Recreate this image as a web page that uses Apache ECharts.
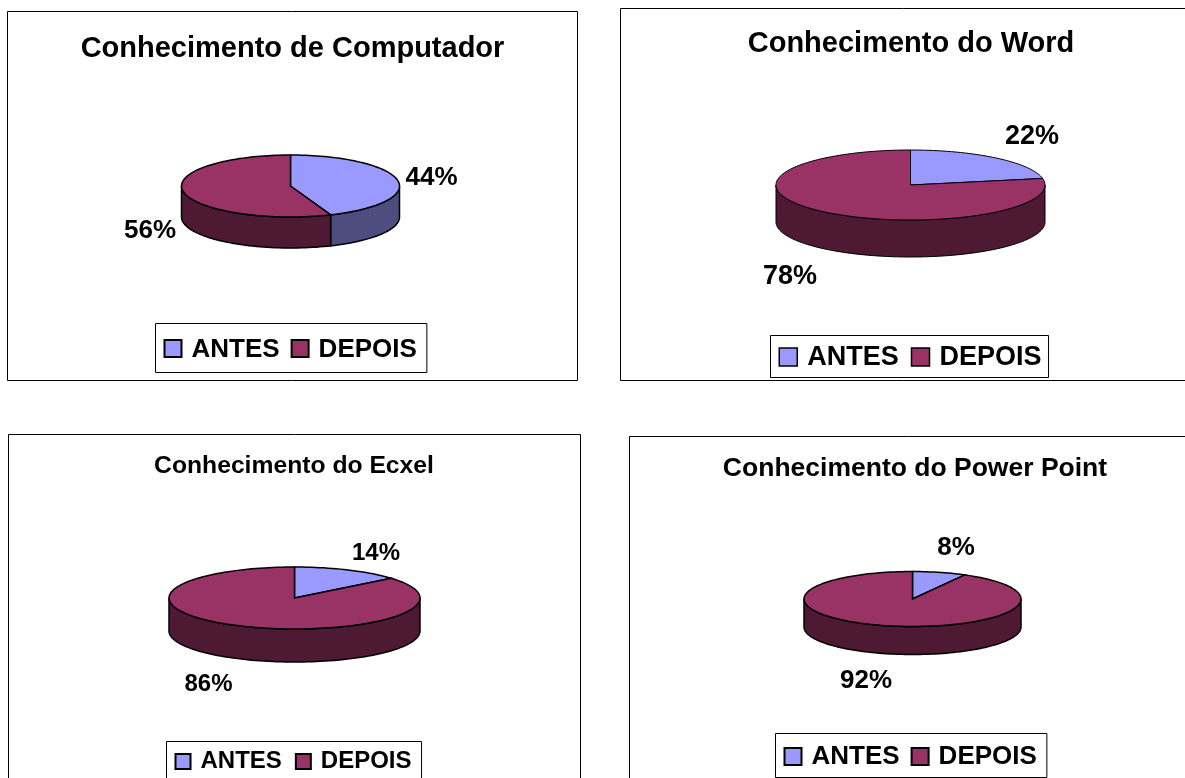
<!DOCTYPE html>
<html>
<head>
<meta charset="utf-8">
<style>html,body{margin:0;padding:0;background:#fff;overflow:hidden}#c{width:1185px;height:778px}</style>
<script src="https://cdn.jsdelivr.net/npm/echarts@6/dist/echarts.min.js"></script>
</head>
<body>
<div id="c"></div>
<script>
// Data
var chartTitles = ['Conhecimento de Computador', 'Conhecimento do Word', 'Conhecimento do Ecxel', 'Conhecimento do Power Point'];
var seriesNames = ['ANTES', 'DEPOIS'];
var antesValues = [44, 22, 14, 8];
var depoisValues = [56, 78, 86, 92];

// Layout (positions and sizes only)
var layout = [
  {frame:[7.5,11.5,570,369], cx:290.5,cy:186,rx:109,ry:31,depth:31, titleX:292.5,titleY:49,titleSize:29,
   labelSize:26, labels:[[431.5,178],[150,231]], legend:[155.5,323.5], legendSize:26, lw:1.5, icon:17, gap:11, pad:[13,10,10,8], textTop:2},
  {frame:[620.5,8.5,600,372], cx:910.5,cy:185,rx:134.5,ry:35,depth:37, titleX:911,titleY:44,titleSize:29,
   labelSize:27, labels:[[1032,137],[790,277]], legend:[770.5,335.5], legendSize:27, lw:1, icon:18, gap:12, pad:[9,7,6,8], textTop:2},
  {frame:[8.5,434.5,572,400], cx:294.5,cy:598,rx:125.5,ry:31,depth:33, titleX:294,titleY:466,titleSize:24.7,
   labelSize:24, labels:[[376,553],[208.5,684]], legend:[166.5,741.5], legendSize:24, lw:1.5, icon:15, gap:13, pad:[8,10,8,8], textTop:0},
  {frame:[629.5,436.5,600,400], cx:912.5,cy:599,rx:108.5,ry:27.5,depth:28, titleX:915,titleY:469,titleSize:26.5,
   labelSize:26, labels:[[956,548],[866,681]], legend:[775.5,733.5], legendSize:26, lw:1.5, icon:17, gap:11, pad:[10,10,8,8], textTop:0}
];
var FONT = '"Liberation Sans", Arial, sans-serif';
var topColors = ['#9999ff', '#993366'];
var sideColors = ['#4d4d80', '#4d1933'];

function rim(p, a, b, dy) {
  var pts = [], n = Math.max(2, Math.ceil(Math.abs(b - a) / 2));
  for (var i = 0; i <= n; i++) {
    var t = (a + (b - a) * i / n) * Math.PI / 180;
    pts.push([p.cx + p.rx * Math.sin(t), p.cy - p.ry * Math.cos(t) + dy]);
  }
  return pts;
}

function makeRender(sIdx) {
  return function (params, api) {
    var i = params.dataIndex, p = layout[i];
    var value = api.value(0), offset = api.value(1), total = api.value(2);
    var a = offset / total * 360, b = (offset + value) / total * 360;
    var children = [];
    var sa = Math.max(a, 90), sb = Math.min(b, 270);
    if (sb > sa) {
      var side = rim(p, sa, sb, 0).concat(rim(p, sa, sb, p.depth).reverse());
      children.push({type:'polygon', shape:{points:side},
        style:{fill:sideColors[sIdx], stroke:'#000', lineWidth:p.lw}});
    }
    children.push({type:'polygon', shape:{points:[[p.cx,p.cy]].concat(rim(p,a,b,0))},
      style:{fill:topColors[sIdx], stroke:'#000', lineWidth:p.lw}});
    children.push({type:'text', style:{text:value + '%', x:p.labels[sIdx][0], y:p.labels[sIdx][1],
      align:'center', verticalAlign:'middle', fill:'#000',
      font:'bold ' + p.labelSize + 'px ' + FONT}});
    return {type:'group', children:children};
  };
}

function sliceData(sIdx) {
  return antesValues.map(function (v, i) {
    var d = depoisValues[i], t = v + d;
    return sIdx === 0 ? [v, 0, t] : [d, v, t];
  });
}

var chart = echarts.init(document.getElementById('c'), null, {renderer:'canvas'});
chart.setOption({
  animation:false,
  backgroundColor:'#fff',
  title: chartTitles.map(function (t, i) {
    var p = layout[i];
    return {text:t, left:p.titleX, top:p.titleY, textAlign:'center', textVerticalAlign:'middle', padding:0,
      textStyle:{fontFamily:FONT, fontWeight:'bold', fontSize:p.titleSize, color:'#000'}};
  }),
  legend: layout.map(function (p) {
    return {data:seriesNames, left:p.legend[0], top:p.legend[1], orient:'horizontal', icon:'rect',
      itemWidth:p.icon, itemHeight:p.icon, itemGap:p.gap, padding:p.pad, selectedMode:false,
      borderColor:'#000', borderWidth:1, backgroundColor:'#fff',
      itemStyle:{borderColor:'#000', borderWidth:p.lw + 0.5},
      formatter:function (name) { return '{t|' + name + '}'; },
      textStyle:{fontFamily:FONT, fontWeight:'bold', fontSize:p.legendSize, color:'#000', padding:[0,0,0,5],
        rich:{t:{fontFamily:FONT, fontWeight:'bold', fontSize:p.legendSize, color:'#000', padding:[p.textTop,0,0,0]}}}};
  }),
  graphic: layout.map(function (p) {
    return {type:'rect', z:-1, silent:true, shape:{x:p.frame[0],y:p.frame[1],width:p.frame[2],height:p.frame[3]},
      style:{fill:'#fff', stroke:'#000', lineWidth:1}};
  }),
  series: seriesNames.map(function (name, s) {
    return {type:'custom', name:name, coordinateSystem:'none', silent:true,
      itemStyle:{color:topColors[s]}, renderItem:makeRender(s), data:sliceData(s),
      encode:{value:[0]}};
  })
});
</script>
</body>
</html>
